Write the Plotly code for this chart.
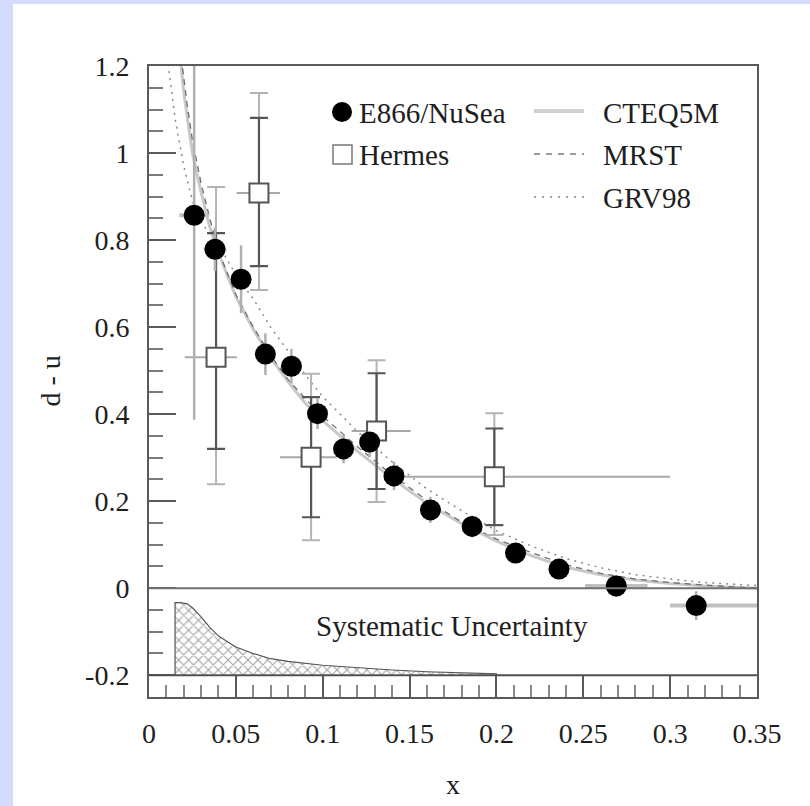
import plotly.graph_objects as go

# ---- E866/NuSea measurements ----
e866_x = [0.026, 0.038, 0.053, 0.067, 0.082, 0.097, 0.112, 0.127, 0.141, 0.162, 0.186, 0.211, 0.236, 0.269, 0.315]
e866_y = [0.857, 0.779, 0.710, 0.538, 0.510, 0.401, 0.320, 0.336, 0.258, 0.180, 0.142, 0.081, 0.044, 0.005, -0.040]
e866_err = [0.47, 0.05, 0.078, 0.048, 0.04, 0.035, 0.033, 0.035, 0.033, 0.03, 0.025, 0.022, 0.02, 0.025, 0.033]
e866_xerr_lo = [0.0085, 0.0065, 0, 0, 0, 0, 0, 0, 0, 0, 0, 0, 0, 0.018, 0.015]
e866_xerr_hi = [0.0085, 0.0065, 0, 0, 0, 0, 0, 0, 0, 0, 0, 0, 0, 0.018, 0.035]

# ---- Hermes measurements ----
herm_x = [0.0386, 0.0633, 0.0933, 0.131, 0.1988]
herm_y = [0.531, 0.908, 0.301, 0.361, 0.256]
herm_stat_hi = [0.285, 0.173, 0.138, 0.133, 0.111]
herm_stat_lo = [0.211, 0.168, 0.138, 0.133, 0.111]
herm_tot_hi = [0.391, 0.230, 0.192, 0.163, 0.146]
herm_tot_lo = [0.292, 0.223, 0.191, 0.163, 0.134]
herm_xlo = [0.018, 0.0128, 0.0179, 0.0143, 0.0563]
herm_xhi = [0.012, 0.0121, 0.0147, 0.0196, 0.1012]

# ---- parton distribution predictions ----
cteq_x = [0.016, 0.018, 0.02, 0.025, 0.03, 0.035, 0.04, 0.05, 0.06, 0.07, 0.08, 0.09, 0.10,
          0.12, 0.14, 0.16, 0.18, 0.20, 0.22, 0.24, 0.26, 0.28, 0.30, 0.32, 0.35]
cteq_y = [1.30, 1.22, 1.14, 1.00, 0.91, 0.83, 0.77, 0.67, 0.595, 0.53, 0.475, 0.425, 0.385,
          0.315, 0.252, 0.195, 0.148, 0.108, 0.075, 0.048, 0.031, 0.019, 0.011, 0.005, 0.0]

mrst_x = [0.017, 0.019, 0.022, 0.025, 0.03, 0.035, 0.04, 0.05, 0.06, 0.07, 0.08, 0.09, 0.10,
          0.12, 0.14, 0.16, 0.18, 0.20, 0.22, 0.24, 0.26, 0.28, 0.30, 0.32, 0.35]
mrst_y = [1.27, 1.20, 1.11, 1.03, 0.93, 0.85, 0.775, 0.675, 0.60, 0.535, 0.48, 0.435, 0.395,
          0.325, 0.26, 0.202, 0.152, 0.113, 0.082, 0.054, 0.034, 0.021, 0.013, 0.007, 0.0]

grv_x = [0.0105, 0.012, 0.015, 0.02, 0.025, 0.03, 0.04, 0.05, 0.06, 0.07, 0.08, 0.09, 0.10,
         0.12, 0.14, 0.16, 0.18, 0.20, 0.22, 0.24, 0.26, 0.28, 0.30, 0.32, 0.35]
grv_y = [1.22, 1.17, 1.08, 0.97, 0.89, 0.84, 0.79, 0.72, 0.665, 0.60, 0.545, 0.49, 0.44,
         0.36, 0.29, 0.228, 0.178, 0.132, 0.097, 0.068, 0.047, 0.031, 0.021, 0.013, 0.006]

# ---- systematic uncertainty band (drawn above the -0.2 baseline) ----
sys_x = [0.015, 0.018, 0.022, 0.025, 0.03, 0.035, 0.04, 0.05, 0.06, 0.07, 0.08, 0.10,
         0.12, 0.14, 0.16, 0.18, 0.20]
sys_top = [-0.033, -0.033, -0.036, -0.045, -0.066, -0.09, -0.11, -0.135, -0.15, -0.162,
           -0.168, -0.177, -0.183, -0.188, -0.192, -0.195, -0.197]
sys_base = -0.2

y_tickvals = [-0.2, 0, 0.2, 0.4, 0.6, 0.8, 1.0, 1.2]
y_ticktext = ["-0.2", "0", "0.2", "0.4", "0.6", "0.8", "1", "1.2"]
x_tickvals = [0, 0.05, 0.1, 0.15, 0.2, 0.25, 0.3, 0.35]
x_ticktext = ["0", "0.05", "0.1", "0.15", "0.2", "0.25", "0.3", "0.35"]

FONT = "Liberation Serif, Times New Roman, serif"
TEXT = "#1e1e1e"

fig = go.Figure()

# systematic band, cross-hatched
fig.add_trace(go.Scatter(
    x=[sys_x[0]] + sys_x + [sys_x[-1]],
    y=[sys_base] + sys_top + [sys_base],
    mode="lines", fill="toself",
    line=dict(color="#555555", width=1.2),
    fillcolor="white",
    fillpattern=dict(shape="x", fgcolor="#4a4a4a", bgcolor="white", size=7, solidity=0.3),
    showlegend=False, hoverinfo="skip"))

# model curves
fig.add_trace(go.Scatter(x=cteq_x, y=cteq_y, mode="lines",
                         line=dict(color="#c8c8c8", width=3), showlegend=False))
fig.add_trace(go.Scatter(x=mrst_x, y=mrst_y, mode="lines",
                         line=dict(color="#6e6e6e", width=1.3, dash="6px,5px"), showlegend=False))
fig.add_trace(go.Scatter(x=grv_x, y=grv_y, mode="lines",
                         line=dict(color="#8a8a8a", width=1.5, dash="2px,5px"), showlegend=False))

# Hermes error bars: total (light) and statistical (dark)
fig.add_trace(go.Scatter(
    x=herm_x, y=herm_y, mode="markers", marker=dict(size=1, opacity=0),
    error_y=dict(type="data", symmetric=False, array=herm_tot_hi, arrayminus=herm_tot_lo,
                 color="#b4b4b4", thickness=2, width=9),
    error_x=dict(type="data", symmetric=False, array=herm_xhi, arrayminus=herm_xlo,
                 color="#a8a8a8", thickness=2, width=0),
    showlegend=False, hoverinfo="skip"))
fig.add_trace(go.Scatter(
    x=herm_x, y=herm_y, mode="markers", marker=dict(size=1, opacity=0),
    error_y=dict(type="data", symmetric=False, array=herm_stat_hi, arrayminus=herm_stat_lo,
                 color="#565656", thickness=2.2, width=9),
    showlegend=False, hoverinfo="skip"))

# E866 error bars
fig.add_trace(go.Scatter(
    x=e866_x, y=e866_y, mode="markers", marker=dict(size=1, opacity=0),
    error_y=dict(type="data", array=e866_err, color="#b0b0b0", thickness=2.5, width=0),
    error_x=dict(type="data", symmetric=False, array=e866_xerr_hi, arrayminus=e866_xerr_lo,
                 color="#c0c0c0", thickness=4, width=0),
    showlegend=False, hoverinfo="skip"))

# markers
fig.add_trace(go.Scatter(
    x=herm_x, y=herm_y, mode="markers", name="Hermes",
    marker=dict(symbol="square", size=19, color="white", line=dict(color="#555555", width=2)),
    showlegend=False))
fig.add_trace(go.Scatter(
    x=e866_x, y=e866_y, mode="markers", name="E866/NuSea",
    marker=dict(symbol="circle", size=21, color="black", line=dict(width=0)),
    showlegend=False))

# plot-area geometry (pixels) used for placing key and decorations
L, R, T, B = 149, 757, 66, 697
W, H = R - L, B - T


def px(xp):
    return (xp - L) / W


def py(yp):
    return (B - yp) / H


shapes = []
# page border tint on left and top
shapes.append(dict(type="rect", xref="paper", yref="paper", x0=-0.3, x1=px(13), y0=-0.3, y1=1.3,
                   fillcolor="#d4dbfc", line=dict(width=0), layer="below"))
shapes.append(dict(type="rect", xref="paper", yref="paper", x0=-0.3, x1=1.3, y0=py(4), y1=1.3,
                   fillcolor="#d4dbfc", line=dict(width=0), layer="below"))
# reference lines at 0 and -0.2
shapes.append(dict(type="line", xref="paper", yref="y", x0=0, x1=1, y0=0, y1=0,
                   line=dict(color="#707070", width=2)))
shapes.append(dict(type="line", xref="paper", yref="y", x0=0, x1=1, y0=sys_base, y1=sys_base,
                   line=dict(color="#505050", width=2)))

# key symbols
shapes.append(dict(type="circle", xref="paper", yref="paper",
                   x0=px(332), x1=px(352), y0=py(122), y1=py(102),
                   fillcolor="black", line=dict(width=0)))
shapes.append(dict(type="rect", xref="paper", yref="paper",
                   x0=px(333), x1=px(352), y0=py(164), y1=py(145),
                   fillcolor="white", line=dict(color="#7a7a7a", width=1.5)))
shapes.append(dict(type="line", xref="paper", yref="paper",
                   x0=px(534), x1=px(584), y0=py(111), y1=py(111),
                   line=dict(color="#d0d0d0", width=4)))
shapes.append(dict(type="line", xref="paper", yref="paper",
                   x0=px(534), x1=px(584), y0=py(154), y1=py(154),
                   line=dict(color="#7a7a7a", width=1.3, dash="6px,6px")))
shapes.append(dict(type="line", xref="paper", yref="paper",
                   x0=px(534), x1=px(584), y0=py(197), y1=py(197),
                   line=dict(color="#8a8a8a", width=1.5, dash="2px,6px")))

annotations = []
key_font = dict(family=FONT, size=29, color=TEXT)
for label, xp, yp in [("E866/NuSea", 357, 113), ("Hermes", 357, 155),
                      ("CTEQ5M", 601, 113), ("MRST", 601, 155), ("GRV98", 601, 198)]:
    annotations.append(dict(text=label, xref="paper", yref="paper", x=px(xp), y=py(yp),
                            xanchor="left", yanchor="middle", showarrow=False, font=key_font))
annotations.append(dict(text="Systematic Uncertainty", xref="paper", yref="paper",
                        x=px(452), y=py(626), xanchor="center", yanchor="middle",
                        showarrow=False, font=dict(family=FONT, size=29, color=TEXT)))
annotations.append(dict(text="x", xref="paper", yref="paper", x=0.5, y=py(784),
                        xanchor="center", yanchor="middle", showarrow=False,
                        font=dict(family=FONT, size=28, color=TEXT)))
annotations.append(dict(text="d - u", xref="paper", yref="paper", x=px(50), y=0.5,
                        xanchor="center", yanchor="middle", textangle=-90, showarrow=False,
                        font=dict(family=FONT, size=28, color=TEXT)))

fig.update_layout(
    width=810, height=806,
    margin=dict(l=L, r=810 - R, t=T, b=806 - B),
    paper_bgcolor="white", plot_bgcolor="white",
    shapes=shapes, annotations=annotations,
    showlegend=False,
    xaxis=dict(range=[0, 0.35], showgrid=False, zeroline=False,
               showline=True, mirror=True, linecolor="#5a5a5a", linewidth=2,
               tickvals=x_tickvals, ticktext=x_ticktext,
               ticks="inside", ticklen=22, tickwidth=1.5, tickcolor="#5a5a5a",
               minor=dict(dtick=0.01, tick0=0, ticks="inside", ticklen=12, tickwidth=1.5,
                          tickcolor="#8a8a8a", showgrid=False),
               ticklabelstandoff=10,
               tickfont=dict(family=FONT, size=28, color=TEXT)),
    yaxis=dict(range=[-0.25, 1.2], showgrid=False, zeroline=False,
               showline=True, mirror=True, linecolor="#5a5a5a", linewidth=2,
               tickvals=y_tickvals, ticktext=y_ticktext,
               ticks="inside", ticklen=27, tickwidth=1.5, tickcolor="#5a5a5a",
               minor=dict(dtick=0.05, tick0=0, ticks="inside", ticklen=14, tickwidth=1.5,
                          tickcolor="#7a7a7a", showgrid=False),
               ticklabelstandoff=12,
               tickfont=dict(family=FONT, size=28, color=TEXT)),
)

fig.write_html("out.html")
